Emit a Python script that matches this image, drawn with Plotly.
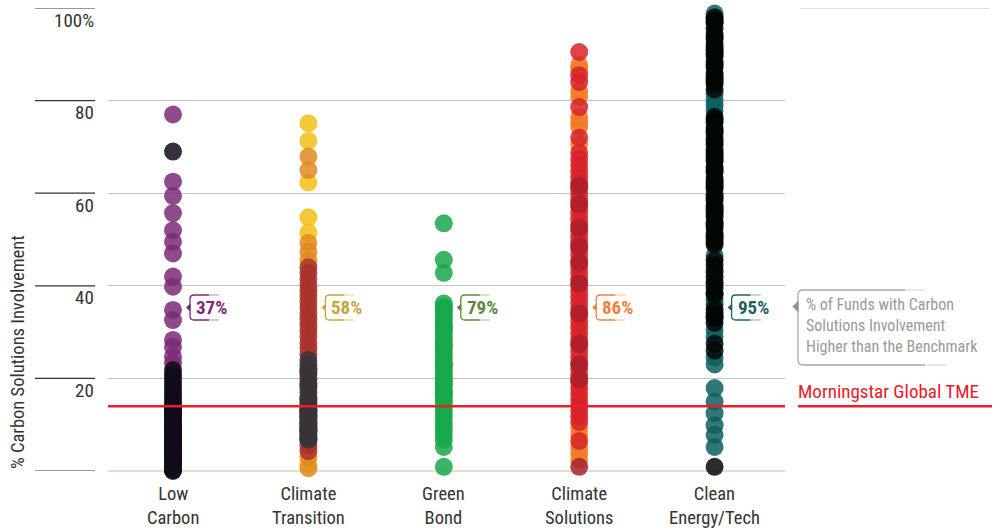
import plotly.graph_objects as go

# ---------------- data ----------------
categories = ["Low<br>Carbon", "Climate<br>Transition", "Green<br>Bond", "Climate<br>Solutions", "Clean<br>Energy/Tech"]
callout_labels = ["37%", "58%", "79%", "86%", "95%"]
callout_colors = ["#7b2a78", "#c9a53e", "#5e8a3c", "#f0823a", "#1e6363"]
benchmark = 14.0
benchmark_label = "Morningstar Global TME"
legend_text = "% of Funds with Carbon<br>Solutions Involvement<br>Higher than the Benchmark"
y_title = "% Carbon Solutions Involvement"
y_ticks = [0, 20, 40, 60, 80, 100]
y_tick_text = ["", "20", "40", "60", "80", "100%"]

# Low Carbon
lc_purple = [77, 62.5, 59.4, 55.7, 52, 49.5, 47, 42, 39.8, 34.8, 32.6, 28.3, 26.8, 24.7, 23.3]
lc_dark = [69, 21.8, 21, 20.2, 19.3, 18.6, 17.8, 17, 16.3, 15.5, 14.8, 14.2,
           13.6, 13.1, 12.5, 12, 11.4, 10.9, 10.3, 9.8, 9.2, 8.7, 8.1, 7.6, 7, 6.5, 5.9, 5.4,
           4.8, 4.3, 3.7, 3.2, 2.6, 2.1, 1.5, 1, 0.5, 0, 13.3, 11.7, 10, 8.4, 6.8, 5.1, 3.4,
           1.8, 0.2, 12.2, 9.5, 7.3, 4.6, 2.4, 0.8, 12.8, 6.2, 3.9]
# Climate Transition
ct_yellow = [75.1, 71.3, 62.3, 54.8, 51.5, 1.5]
ct_orange = [67.9, 65.0, 49.3, 47.4, 45.5, 0.6, 3.0]
ct_red = [44, 42.8, 41.5, 40.2, 39, 37.8, 36.5, 35.3, 34, 32.8, 31.5, 30.3, 29, 27.7, 26.5, 25.2,
          5.5, 4.3, 6.5]
ct_gray = [24, 23, 22, 21, 20, 19, 18, 17, 16, 15, 14.5, 13.8, 13, 12.2, 11.4, 10.6, 9.8, 9,
           8.2, 7.4, 12.6, 10.2, 8.6, 15.5, 18.5, 21.5, 13.4, 12.9, 11.8, 11, 10.4, 9.4, 8.8,
           7.8, 7, 6.8, 13.2]
# Green Bond
gb_green = [53.5, 45.6, 42.8, 36.2, 35.4, 34.6, 33.8, 33, 32.2, 31.4, 30.6, 29.8, 29, 28.2,
            27.4, 26.6, 25.8, 25, 24.2, 23.4, 22.6, 21.8, 21, 20.2, 19.4, 18.6, 17.8, 17, 16.2,
            15.4, 14.6, 35, 31, 27, 23, 19, 16.8, 13.6, 12.6, 11.6, 10.6, 9.6, 8.6, 7.6, 6.7,
            5.2, 0.9]
# Climate Solutions
cs_orange = [87.7, 86.8, 82, 80.8, 76.5, 75.3, 74.3, 70.5, 9.2, 7.8, 5.2, 3.8, 2.4]
cs_red = [90.5, 85.5, 84, 78.6, 72, 68.7, 67.4, 66.1, 64.8, 63.5, 62.2, 60.9, 59.6, 58.3, 57,
          55.7, 54.4, 53.1, 51.8, 50.5, 49.2, 47.9, 46.6, 45.3, 44, 42.7, 41.4, 40.1, 38.8,
          37.5, 36.2, 34.9, 33.6, 32.3, 31, 29.7, 28.4, 27.1, 25.8, 24.5, 23.2, 21.9, 20.6,
          19.3, 18, 16.7, 15.4, 14.2, 13, 11.8, 10.6, 6.5]
cs_dark = [61.5, 57.6, 52.5, 48.5, 45, 40.5, 34, 27.5, 23, 19.8, 0.9]
# Clean Energy/Tech
ce_teal = [98.8, 81.5, 80.2, 79, 77.8, 46.5, 43.5, 41, 37, 36, 30.5, 29, 24.5, 23, 17.9, 15,
           12.5, 9.9, 7.8, 5.2]
ce_dark = [98, 96.8, 95.6, 94.4, 93.2, 92, 90.8, 89.6, 88.4, 87.2, 86, 84.8, 83.6, 82.4,
           76.5, 75.3, 74.1, 72.9, 71.7, 70.5, 69.3, 68.1, 66.9, 65.7, 64.5, 63.3, 62.1, 60.9,
           59.7, 58.5, 57.3, 56.1, 54.9, 53.7, 52.5, 51.3, 50.1, 48.9,
           44.5, 42, 40.5, 38.5, 35, 33.5, 32, 27.5, 26, 0.9,
           85.4, 91.4, 97.4, 73.5, 67.5, 61.5, 55.5, 34.2, 39.5, 45.5,
           97, 93.8, 90.2, 87.8, 84.2, 75.9, 71.1, 65.1, 59.1, 53.1, 49.5, 68.7, 62.7, 56.7,
           50.7, 43, 38, 33]

series = [
    (0, lc_purple, "#7b2a78"), (0, lc_dark, "#120c1a"),
    (1, ct_yellow, "#f2c014"), (1, ct_orange, "#e08a1e"), (1, ct_red, "#a8332a"), (1, ct_gray, "#3a3438"),
    (2, gb_green, "#17a84a"),
    (3, cs_orange, "#f07a22"), (3, cs_red, "#d82228"), (3, cs_dark, "#a8202c"),
    (4, ce_teal, "#0e5f5f"), (4, ce_dark, "#020706"),
]

FONT = "Roboto Condensed, Liberation Sans Narrow, Arial Narrow, Roboto, sans-serif"
TXT = "#333333"

fig = go.Figure()
for idx, vals, col in series:
    fig.add_trace(go.Scatter(
        x=[idx] * len(vals), y=vals, mode="markers",
        marker=dict(size=18, color=col, opacity=0.85, line=dict(width=0)),
        cliponaxis=False, showlegend=False, hoverinfo="y"))

# plot geometry helpers (pixels -> axis values)
PL, PR, PT, PB = 108, 785, 8, 471
XPX = 135.4
def ypx(py):
    return (PB - py) / ((PB - PT) / 100.0)
def xpaper(px):
    return (px - PL) / (PR - PL)

shapes = []
annotations = []

# left tick lines and labels
for v, t in zip(y_ticks, y_tick_text):
    shapes.append(dict(type="line", xref="paper", yref="y", x0=xpaper(35), x1=xpaper(95),
                       y0=v, y1=v, line=dict(color="#333333", width=1.2)))
    if t:
        annotations.append(dict(xref="paper", yref="y", x=xpaper(96), y=v, yshift=-12,
                                xanchor="right", yanchor="middle", text=t, showarrow=False,
                                font=dict(family=FONT, size=19, color=TXT)))

# right top line
shapes.append(dict(type="line", xref="paper", yref="y", x0=xpaper(800), x1=xpaper(990),
                   y0=100, y1=100, line=dict(color="#c0c0c0", width=1)))

# benchmark line (over the dots) + label underline
shapes.append(dict(type="line", xref="paper", yref="y", x0=0, x1=1, y0=benchmark, y1=benchmark,
                   line=dict(color="#e8202a", width=2.5), layer="above"))
shapes.append(dict(type="line", xref="paper", yref="y", x0=xpaper(798), x1=xpaper(992),
                   y0=benchmark, y1=benchmark, line=dict(color="#e8202a", width=2.5), layer="above"))
annotations.append(dict(xref="paper", yref="y", x=1, xshift=11, y=ypx(391), xanchor="left",
                        yanchor="middle", text=benchmark_label, showarrow=False,
                        font=dict(family=FONT, size=19, color="#e8202a")))

# callouts
cy = ypx(307.5)
for i, (lab, col) in enumerate(zip(callout_labels, callout_colors)):
    shapes.append(dict(type="path", xref="x", yref="y", xsizemode="pixel", ysizemode="pixel",
                       xanchor=i, yanchor=cy,
                       path="M 36,12.5 L 21,12.5 Q 17,12.5 17,8.5 L 17,3 L 17,-3 L 17,-8.5 Q 17,-12.5 21,-12.5 L 36,-12.5",
                       line=dict(color=col, width=1.3)))
    shapes.append(dict(type="path", xref="x", yref="y", xsizemode="pixel", ysizemode="pixel",
                       xanchor=i, yanchor=cy, opacity=0.35,
                       path="M 36,12.5 L 46,12.5 M 36,-12.5 L 46,-12.5",
                       line=dict(color=col, width=1.3)))
    shapes.append(dict(type="path", xref="x", yref="y", xsizemode="pixel", ysizemode="pixel",
                       xanchor=i, yanchor=cy, path="M 17,3 L 13.5,0 L 17,-3 Z",
                       fillcolor=col, line=dict(color=col, width=1)))
    annotations.append(dict(xref="x", yref="y", x=i, xshift=21, y=cy, xanchor="left",
                            yanchor="middle", text="<b>" + lab + "</b>", showarrow=False,
                            font=dict(family=FONT, size=19, color=col)))

# legend explanation box
ly = ypx(327.5)
gray = "#a8a8a8"
shapes.append(dict(type="path", xref="paper", yref="y", xsizemode="pixel", ysizemode="pixel",
                   xanchor=1, yanchor=ly,
                   path="M 120,37.5 L 18,37.5 Q 13,37.5 13,32.5 L 13,-32.5 Q 13,-37.5 18,-37.5 L 140,-37.5",
                   line=dict(color=gray, width=1.3)))
shapes.append(dict(type="path", xref="paper", yref="y", xsizemode="pixel", ysizemode="pixel",
                   xanchor=1, yanchor=ly, opacity=0.35,
                   path="M 120,37.5 L 140,37.5 M 140,-37.5 L 162,-37.5",
                   line=dict(color=gray, width=1.3)))
shapes.append(dict(type="path", xref="paper", yref="y", xsizemode="pixel", ysizemode="pixel",
                   xanchor=1, yanchor=ly, path="M 13,26 L 8,21 L 13,16 Z",
                   fillcolor="#909090", line=dict(color="#909090", width=1)))
annotations.append(dict(xref="paper", yref="y", x=1, xshift=19, y=ypx(325), xanchor="left",
                        yanchor="middle", align="left", text=legend_text, showarrow=False,
                        font=dict(family=FONT, size=16, color="#9a9a9a")))

# y title
annotations.append(dict(xref="paper", yref="y", x=xpaper(18), y=ypx(352), xanchor="center",
                        yanchor="middle", textangle=-90, text=y_title, showarrow=False,
                        font=dict(family=FONT, size=18.5, color=TXT)))

# category labels
for i, c in enumerate(categories):
    annotations.append(dict(xref="x", yref="y", x=i, y=0, yshift=-35, xanchor="center",
                            yanchor="middle", text=c, showarrow=False,
                            font=dict(family=FONT, size=18.5, color=TXT)))

x0 = -(173 - PL) / XPX
fig.update_layout(
    width=1000, height=531,
    margin=dict(l=PL, r=1000 - PR, t=PT, b=531 - PB),
    paper_bgcolor="white", plot_bgcolor="white",
    xaxis=dict(range=[x0, x0 + (PR - PL) / XPX], showgrid=False, zeroline=False,
               showticklabels=False, showline=False, fixedrange=True),
    yaxis=dict(range=[0, 100], tickvals=[20, 40, 60, 80, 100], showticklabels=False,
               showgrid=True, gridcolor="#c4c4c4", gridwidth=1,
               zeroline=True, zerolinecolor="#e6e0cc", zerolinewidth=1.5,
               showline=False, fixedrange=True),
    shapes=shapes, annotations=annotations,
    font=dict(family=FONT),
)
fig.write_html("out.html", config={"displayModeBar": False},
               post_script="document.body.style.margin='0px';")
